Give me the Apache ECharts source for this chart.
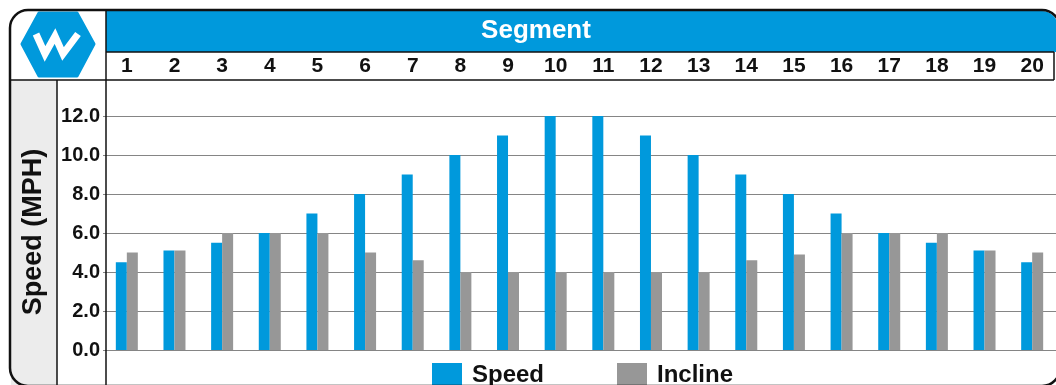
<!DOCTYPE html>
<html>
<head>
<meta charset="utf-8">
<script src="https://cdn.jsdelivr.net/npm/echarts@6/dist/echarts.min.js"></script>
<style>
    html, body { margin: 0; padding: 0; background: #fff; }
    #chart { width: 1056px; height: 385px; }
</style>
</head>
<body>
<div id="chart"></div>
<script>
    // 数据
    var segments = ['1', '2', '3', '4', '5', '6', '7', '8', '9', '10',
        '11', '12', '13', '14', '15', '16', '17', '18', '19', '20'];
    var speed = [4.5, 5.1, 5.5, 6.0, 7.0, 8.0, 9.0, 10.0, 11.0, 12.0,
        12.0, 11.0, 10.0, 9.0, 8.0, 7.0, 6.0, 5.5, 5.1, 4.5];
    var incline = [5.0, 5.1, 6.0, 6.0, 6.0, 5.0, 4.6, 4.0, 4.0, 4.0,
        4.0, 4.0, 4.0, 4.6, 4.9, 6.0, 6.0, 6.0, 5.1, 5.0];
    var yTicks = [0, 2, 4, 6, 8, 10, 12];

    var blue = '#0099dc';
    var gray = '#979797';
    var font = '"Liberation Sans", Arial, sans-serif';

    var myChart = echarts.init(document.getElementById('chart'));
    var option = {
        animation: false,
        grid: {
            left: 103,
            top: 116,
            width: 957,
            height: 234
        },
        legend: {
            data: ['Speed', 'Incline'],
            left: 427,
            top: 358,
            itemWidth: 30,
            itemHeight: 24,
            itemGap: 73,
            icon: 'rect',
            textStyle: {
                color: '#111',
                fontFamily: font,
                fontWeight: 'bold',
                fontSize: 24,
                padding: [0, 0, 0, 5]
            }
        },
        xAxis: {
            type: 'category',
            position: 'top',
            data: segments,
            axisLine: { show: false },
            axisTick: { show: false },
            axisLabel: {
                margin: 50,
                verticalAlign: 'middle',
                color: '#111',
                fontFamily: font,
                fontWeight: 'bold',
                fontSize: 21
            }
        },
        yAxis: {
            type: 'value',
            min: yTicks[0],
            max: yTicks[yTicks.length - 1],
            interval: 2,
            axisLine: { show: false },
            axisTick: { show: false },
            axisLabel: {
                margin: 3,
                color: '#111',
                fontFamily: font,
                fontWeight: 'bold',
                fontSize: 20,
                formatter: function (v) { return v.toFixed(1); }
            },
            splitLine: {
                lineStyle: { color: '#858585', width: 1.2 }
            }
        },
        series: [{
            name: 'Speed',
            type: 'bar',
            data: speed,
            barWidth: 11,
            barGap: '0%',
            itemStyle: { color: blue }
        }, {
            name: 'Incline',
            type: 'bar',
            data: incline,
            barWidth: 11,
            barGap: '0%',
            itemStyle: { color: gray }
        }],
        graphic: [
            // 左侧灰色条
            { type: 'rect', z: -1, shape: { x: 11, y: 80, width: 46, height: 310 }, style: { fill: '#ececec' } },
            // 顶部蓝色标题栏
            { type: 'rect', z: -1, shape: { x: 106, y: 11, width: 952, height: 41, r: [0, 16, 0, 0] }, style: { fill: blue } },
            { type: 'text', z: 5, style: { x: 536, y: 31, text: 'Segment', fill: '#fff', font: 'bold 26px ' + font, textAlign: 'center', textVerticalAlign: 'middle' } },
            // 分隔线
            { type: 'line', z: 5, shape: { x1: 10, y1: 80, x2: 1054, y2: 80 }, style: { stroke: '#111', lineWidth: 1.5 } },
            { type: 'line', z: 5, shape: { x1: 106, y1: 52, x2: 1054, y2: 52 }, style: { stroke: '#111', lineWidth: 1.5 } },
            { type: 'line', z: 5, shape: { x1: 1054, y1: 52, x2: 1054, y2: 80 }, style: { stroke: '#111', lineWidth: 1.5 } },
            { type: 'line', z: 5, shape: { x1: 106, y1: 10, x2: 106, y2: 385 }, style: { stroke: '#111', lineWidth: 1.5 } },
            { type: 'line', z: 5, shape: { x1: 57, y1: 80, x2: 57, y2: 385 }, style: { stroke: '#111', lineWidth: 1.5 } },
            // 外框
            { type: 'rect', z: 6, shape: { x: 10, y: 10, width: 1050, height: 376, r: 18 }, style: { fill: 'none', stroke: '#111', lineWidth: 2.5 } },
            // y轴标题
            { type: 'text', z: 5, x: 34, y: 232, rotation: Math.PI / 2, style: { x: 0, y: 0, text: 'Speed (MPH)', fill: '#111', font: 'bold 27px ' + font, textAlign: 'center', textVerticalAlign: 'middle' } },
            // logo
            { type: 'polygon', z: 5, shape: { points: [[22, 44], [39, 13], [77, 13], [94, 44], [77, 76], [39, 76]] }, style: { fill: blue, stroke: blue, lineWidth: 3, lineJoin: 'round' } },
            { type: 'polyline', z: 6, shape: { points: [[36, 34], [45, 54], [55, 36], [63, 54], [78, 34]] }, style: { fill: 'none', stroke: '#fff', lineWidth: 7, lineJoin: 'miter' } }
        ]
    };
    myChart.setOption(option);
</script>
</body>
</html>
